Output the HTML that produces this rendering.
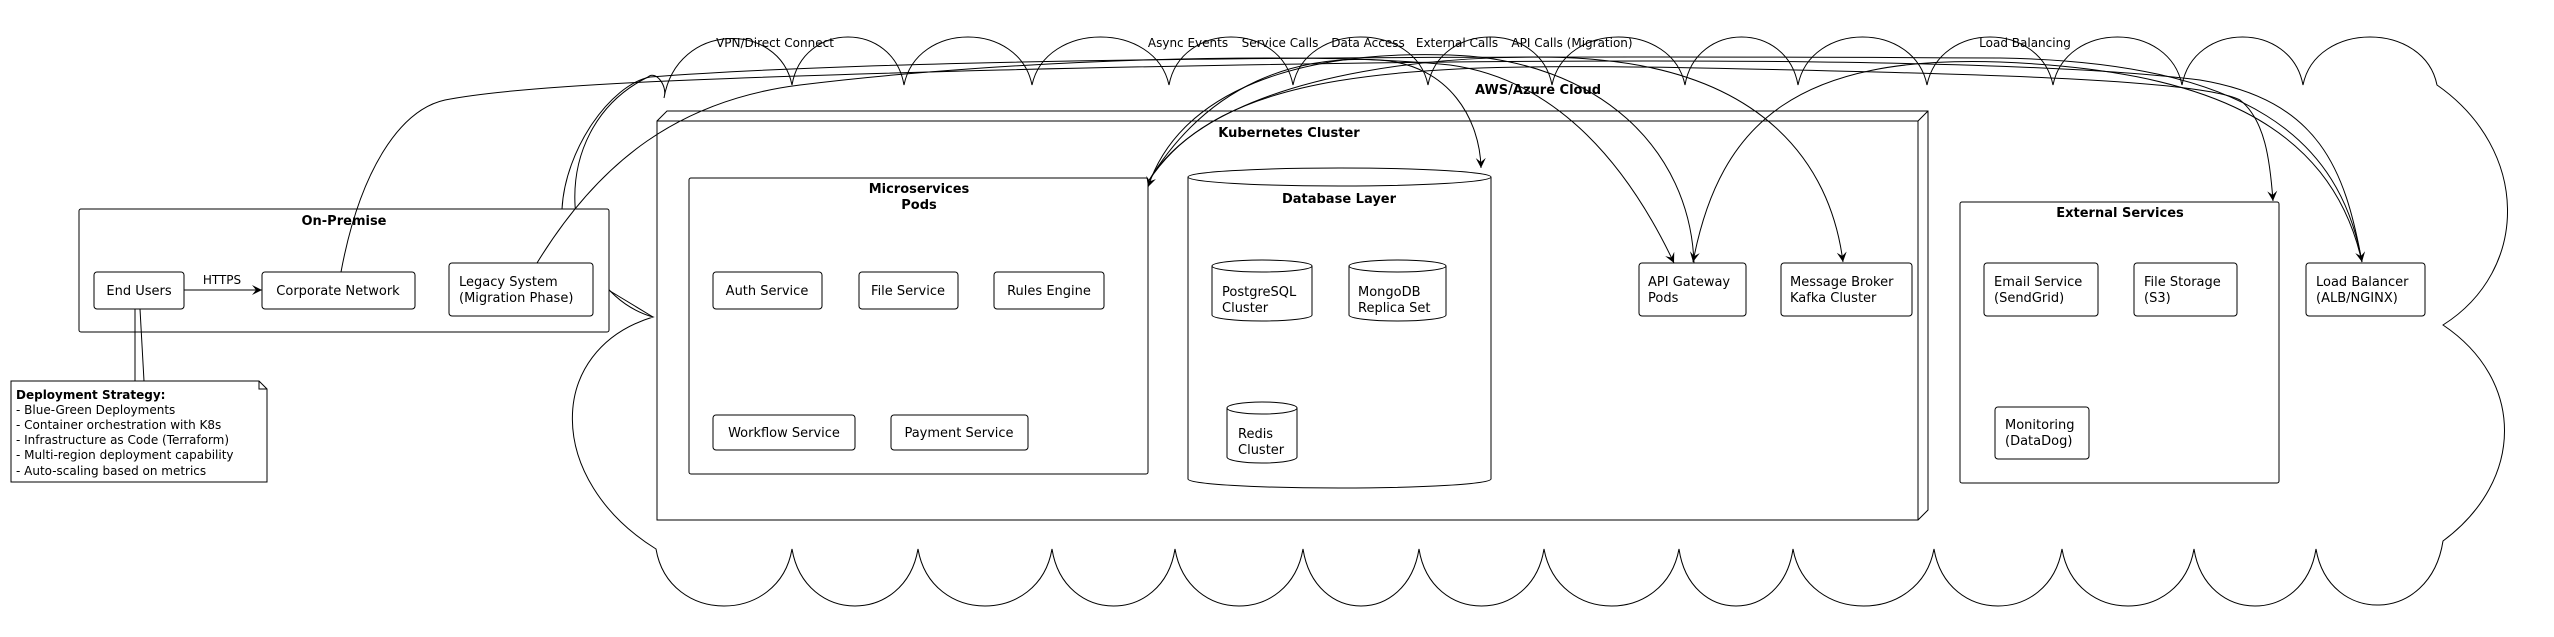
<!DOCTYPE html>
<html><head><meta charset="utf-8"><style>
html,body{margin:0;padding:0;background:#fff}
svg{display:block}
text{font-family:"DejaVu Sans","Liberation Sans",sans-serif;fill:#000}
.n{font-size:13px}
.b{font-size:13px;font-weight:bold}
.l{font-size:12px}
</style></head><body>
<svg width="2554" height="637" viewBox="0 0 2554 637" xmlns="http://www.w3.org/2000/svg">
<defs>
<marker id="a" markerWidth="12" markerHeight="12" refX="10" refY="5" orient="auto" markerUnits="userSpaceOnUse">
<path d="M0,0 L10,5 L0,10 L4,5 Z" fill="#000"/>
</marker>
</defs>
<!-- cloud -->
<path fill="none" stroke="#000" stroke-width="1" d="
M664,98
C677,21 779,21 792,85
C803,21 893,21 904,85
C917,21 1019,21 1032,85
C1046,21 1155,21 1169,85
C1181,21 1281,21 1293,85
C1306,21 1415,21 1428,85
C1440,21 1540,21 1552,85
C1565,21 1672,21 1685,85
C1696,21 1787,21 1798,85
C1811,21 1914,21 1927,85
C1940,21 2040,21 2053,85
C2066,21 2169,21 2182,85
C2194,21 2291,21 2303,85
C2316,21 2424,21 2437,85
C2530,150 2530,270 2443,325
C2525,380 2525,480 2443,541
C2430,625 2329,625 2316,549
C2304,625 2206,625 2194,549
C2181,625 2075,625 2062,549
C2049,625 1947,625 1934,549
C1920,625 1807,625 1793,549
C1782,625 1690,625 1679,549
C1665,625 1558,625 1544,549
C1532,625 1431,625 1419,549
C1407,625 1315,625 1303,549
C1290,625 1188,625 1175,549
C1163,625 1064,625 1052,549
C1039,625 931,625 918,549
C905,625 805,625 792,549
C779,625 669,625 656,549
C545,480 545,350 653,317
C560,290 540,130 648,77
C655,70 668,85 664,98 Z"/>
<text x="1538" y="94" class="b" text-anchor="middle">AWS/Azure Cloud</text>

<!-- Kubernetes 3D box -->
<path d="M657,121 L667,111 L1928,111 L1928,510 L1918,520 M1918,121 L1928,111" fill="none" stroke="#000"/>
<rect x="657" y="121" width="1261" height="399" fill="#fff" stroke="#000"/>
<text x="1289" y="137" class="b" text-anchor="middle">Kubernetes Cluster</text>

<!-- Microservices -->
<rect x="689" y="178" width="459" height="296" rx="2" fill="#fff" stroke="#000"/>
<text x="919" y="193" class="b" text-anchor="middle">Microservices</text>
<text x="919" y="209" class="b" text-anchor="middle">Pods</text>
<rect x="713" y="272" width="109" height="37" rx="3" fill="#fff" stroke="#000"/><text x="767" y="295" class="n" text-anchor="middle">Auth Service</text>
<rect x="859" y="272" width="99" height="37" rx="3" fill="#fff" stroke="#000"/><text x="908" y="295" class="n" text-anchor="middle">File Service</text>
<rect x="994" y="272" width="110" height="37" rx="3" fill="#fff" stroke="#000"/><text x="1049" y="295" class="n" text-anchor="middle">Rules Engine</text>
<rect x="713" y="415" width="142" height="35" rx="3" fill="#fff" stroke="#000"/><text x="784" y="437" class="n" text-anchor="middle">Workflow Service</text>
<rect x="891" y="415" width="137" height="35" rx="3" fill="#fff" stroke="#000"/><text x="959" y="437" class="n" text-anchor="middle">Payment Service</text>

<!-- Database -->
<path d="M1188,177 L1188,479 A151,9 0 0 0 1491,479 L1491,177" fill="#fff" stroke="#000"/>
<ellipse cx="1339.5" cy="177" rx="151.5" ry="9" fill="#fff" stroke="#000"/>
<text x="1339" y="203" class="b" text-anchor="middle">Database Layer</text>
<path d="M1212,266 L1212,315 A50,6 0 0 0 1312,315 L1312,266" fill="#fff" stroke="#000"/><ellipse cx="1262" cy="266" rx="50" ry="6" fill="#fff" stroke="#000"/>
<text x="1222" y="296" class="n">PostgreSQL</text><text x="1222" y="312" class="n">Cluster</text>
<path d="M1349,266 L1349,315 A48.5,6 0 0 0 1446,315 L1446,266" fill="#fff" stroke="#000"/><ellipse cx="1397.5" cy="266" rx="48.5" ry="6" fill="#fff" stroke="#000"/>
<text x="1358" y="296" class="n">MongoDB</text><text x="1358" y="312" class="n">Replica Set</text>
<path d="M1227,408 L1227,457 A35,6 0 0 0 1297,457 L1297,408" fill="#fff" stroke="#000"/><ellipse cx="1262" cy="408" rx="35" ry="6" fill="#fff" stroke="#000"/>
<text x="1238" y="438" class="n">Redis</text><text x="1238" y="454" class="n">Cluster</text>

<rect x="1639" y="263" width="107" height="53" rx="3" fill="#fff" stroke="#000"/>
<text x="1648" y="286" class="n">API Gateway</text><text x="1648" y="302" class="n">Pods</text>
<rect x="1781" y="263" width="131" height="53" rx="3" fill="#fff" stroke="#000"/>
<text x="1790" y="286" class="n">Message Broker</text><text x="1790" y="302" class="n">Kafka Cluster</text>

<!-- External -->
<rect x="1960" y="202" width="319" height="281" rx="2" fill="#fff" stroke="#000"/>
<text x="2120" y="217" class="b" text-anchor="middle">External Services</text>
<rect x="1984" y="263" width="114" height="53" rx="3" fill="#fff" stroke="#000"/>
<text x="1994" y="286" class="n">Email Service</text><text x="1994" y="302" class="n">(SendGrid)</text>
<rect x="2134" y="263" width="103" height="53" rx="3" fill="#fff" stroke="#000"/>
<text x="2144" y="286" class="n">File Storage</text><text x="2144" y="302" class="n">(S3)</text>
<rect x="1995" y="407" width="94" height="52" rx="3" fill="#fff" stroke="#000"/>
<text x="2005" y="429" class="n">Monitoring</text><text x="2005" y="445" class="n">(DataDog)</text>

<rect x="2306" y="263" width="119" height="53" rx="3" fill="#fff" stroke="#000"/>
<text x="2316" y="286" class="n">Load Balancer</text><text x="2316" y="302" class="n">(ALB/NGINX)</text>

<!-- On-Premise -->
<rect x="79" y="209" width="530" height="123" rx="2" fill="#fff" stroke="#000"/>
<text x="344" y="225" class="b" text-anchor="middle">On-Premise</text>
<rect x="94" y="272" width="90" height="37" rx="3" fill="#fff" stroke="#000"/><text x="139" y="295" class="n" text-anchor="middle">End Users</text>
<rect x="262" y="272" width="153" height="37" rx="3" fill="#fff" stroke="#000"/><text x="338" y="295" class="n" text-anchor="middle">Corporate Network</text>
<rect x="449" y="263" width="144" height="53" rx="3" fill="#fff" stroke="#000"/>
<text x="459" y="286" class="n">Legacy System</text><text x="459" y="302" class="n">(Migration Phase)</text>
<line x1="184" y1="290" x2="262" y2="290" stroke="#000" marker-end="url(#a)"/>
<text x="222" y="284" class="l" text-anchor="middle">HTTPS</text>
<path d="M610,291 L653,317" fill="none" stroke="#000"/>

<!-- note -->
<path d="M135,309 L135,381 M144,381 L140,309" fill="none" stroke="#000"/>
<path d="M11,381 L259,381 L267,389 L267,482 L11,482 Z M259,381 L259,389 L267,389" fill="#fff" stroke="#000"/>
<text x="16" y="399" class="b" style="font-size:12px">Deployment Strategy:</text>
<text x="16" y="414" class="l">- Blue-Green Deployments</text>
<text x="16" y="429" class="l">- Container orchestration with K8s</text>
<text x="16" y="444" class="l">- Infrastructure as Code (Terraform)</text>
<text x="16" y="459" class="l">- Multi-region deployment capability</text>
<text x="16" y="475" class="l">- Auto-scaling based on metrics</text>

<!-- connectors -->
<g fill="none" stroke="#000" stroke-width="1">
<path d="M341,272 C360,170 400,110 445,100 C520,85 700,78 1000,70 C1500,58 2000,55 2200,80 C2320,100 2345,170 2362,262" marker-end="url(#a)"/>
<path d="M562,209 C565,150 610,85 650,77 C900,58 1400,55 2000,58 C2250,62 2340,140 2362,262"/>
<path d="M537,263 C600,160 680,100 800,85 C1000,60 1300,50 1450,65 C1560,80 1630,170 1674,263" marker-end="url(#a)"/>
<path d="M1694,263 C1690,150 1600,60 1450,55 C1300,50 1180,90 1148,187" marker-end="url(#a)"/>
<path d="M1148,182 C1210,80 1300,55 1380,60 C1450,65 1480,120 1481,168" marker-end="url(#a)"/>
<path d="M1148,182 C1220,60 1500,50 1600,60 C1760,75 1830,160 1843,262" marker-end="url(#a)"/>
<path d="M1148,182 C1220,70 1400,62 1700,68 C2000,74 2200,80 2240,100 C2265,120 2270,160 2273,201" marker-end="url(#a)"/>
<path d="M2362,262 C2330,120 2200,70 2000,62 C1800,55 1720,120 1693,262" marker-end="url(#a)"/>
</g>
<text x="775" y="47" class="l" text-anchor="middle">VPN/Direct Connect</text>
<text x="1188" y="47" class="l" text-anchor="middle">Async Events</text>
<text x="1280" y="47" class="l" text-anchor="middle">Service Calls</text>
<text x="1368" y="47" class="l" text-anchor="middle">Data Access</text>
<text x="1457" y="47" class="l" text-anchor="middle">External Calls</text>
<text x="1572" y="47" class="l" text-anchor="middle">API Calls (Migration)</text>
<text x="2025" y="47" class="l" text-anchor="middle">Load Balancing</text>
</svg>
</body></html>
